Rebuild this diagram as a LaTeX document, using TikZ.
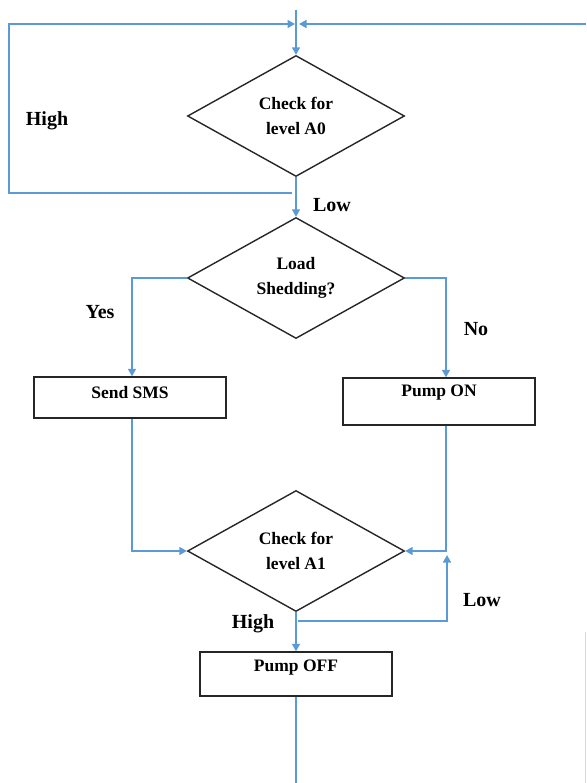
\documentclass[tikz,border=0pt]{standalone}
\usepackage{fontspec}
\setmainfont{Liberation Serif}
\usetikzlibrary{shapes.geometric,arrows.meta,calc}
\definecolor{lineblue}{HTML}{5B9BD5}
\definecolor{boxline}{HTML}{262626}
\tikzset{
  x=1pt, y=-1pt,
  flow/.style={draw=lineblue, line width=1.6pt},
  arr/.style={flow, -{Triangle[length=7.5pt,width=8pt]}},
  decision/.style={diamond, draw=boxline, line width=1.4pt, inner sep=0pt,
    minimum width=217pt, minimum height=121pt, align=center,
    font=\fontsize{17.5}{24.5}\selectfont\bfseries},
  procbox/.style={rectangle, draw=boxline, line width=1.4pt, inner sep=0pt},
  boxtext/.style={font=\fontsize{17.5}{21}\selectfont\bfseries, inner sep=0pt},
  lbl/.style={font=\fontsize{20}{24}\selectfont\bfseries, inner sep=0pt}
}
\begin{document}
\begin{tikzpicture}
\useasboundingbox (0,0) rectangle (586,783);
% decisions
\node[decision] (d1) at (296,116) {Check for\\level A0};
\node[decision] (d2) at (296,278) {Load\\Shedding?};
\node[decision] (d3) at (296,551) {Check for\\level A1};
% process boxes
\node[procbox, minimum width=192pt, minimum height=41pt] (sms) at (130,397.5) {};
\node[boxtext] (smst) at ($(sms.north)+(0,16)$) {Send SMS};
\node[procbox, minimum width=192pt, minimum height=47pt] (pon) at (439,401.5) {};
\node[boxtext] (pont) at ($(pon.north)+(0,15)$) {Pump ON};
\node[procbox, minimum width=192pt, minimum height=44pt] (poff) at (296,674) {};
\node[boxtext] (pofft) at ($(poff.north)+(0,16)$) {Pump OFF};
% coordinates
\coordinate (top) at (296,10);
\coordinate (j) at (296,24);
\coordinate (hstart) at (292,193);
\coordinate (lefttop) at (9,24);
\coordinate (leftbot) at (9,193);
\coordinate (rtop) at (586,24);
\coordinate (lowst) at (298,621);
\coordinate (lowc) at (447,621);
\coordinate (lowend) at (447,555);
\coordinate (bottom) at (296,783);
\coordinate (rfa) at (585,632);
\coordinate (rfb) at (585,783);
% connectors
\draw[arr] (top) -- (d1.north);
\draw[arr, shorten >=1pt] (hstart) -- (leftbot) -- (lefttop) -- (j);
\draw[arr, shorten >=3pt] (rtop) -- (j);
\draw[arr] (d1.south) -- (d2.north);
\draw[arr] (d2.west) -| ($(sms.north)+(2,0)$);
\draw[arr] (d2.east) -| ($(pon.north)+(7,0)$);
\draw[arr] ($(sms.south)+(2,0)$) |- (d3.west);
\draw[arr] ($(pon.south)+(7,0)$) |- (d3.east);
\draw[arr] (d3.south) -- (poff.north);
\draw[arr] (lowst) -- (lowc) -- (lowend);
\draw[flow] (poff.south) -- (bottom);
\draw[draw=lineblue!35, line width=1pt] (rfa) -- (rfb);
% labels
\node[lbl] (lhigh1) at (47,121) {High};
\node[lbl] (llow1) at (332,205) {Low};
\node[lbl] (lyes) at (100,312) {Yes};
\node[lbl] (lno) at (476,329) {No};
\node[lbl] (lhigh2) at (253,624) {High};
\node[lbl] (llow2) at (482,600) {Low};
\end{tikzpicture}
\end{document}
